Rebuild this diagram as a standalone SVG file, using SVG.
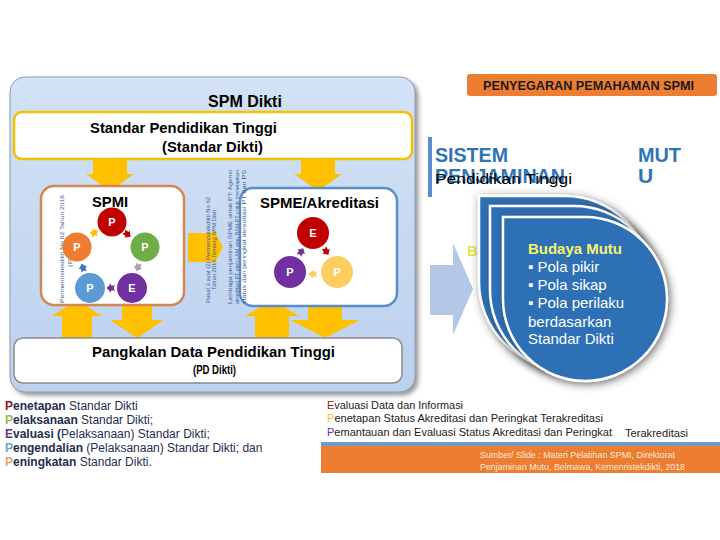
<svg xmlns="http://www.w3.org/2000/svg" width="720" height="540" viewBox="0 0 720 540">
<defs>
<style>
.f{font-family:"Liberation Sans",Arial,sans-serif}
.b{font-weight:bold}
.vt{font-family:"Liberation Sans",Arial,sans-serif;font-size:6px;fill:#3d5f93}
.cl{font-family:"Liberation Sans",Arial,sans-serif;font-size:11px;font-weight:bold;fill:#ffffff}
.yel{fill:#ffc000}
.bl{font-family:"Liberation Sans",Arial,sans-serif;font-size:12px;fill:#1f2d50}
.br{font-family:"Liberation Sans",Arial,sans-serif;font-size:11.5px;fill:#222222}
.mut{font-family:"Liberation Sans",Arial,sans-serif;font-size:15px;fill:#ffffff}
.drop{fill:#2f6fb6;stroke:#ffffff;stroke-width:2.5}
</style>
<linearGradient id="pg" x1="0" y1="0" x2="0" y2="1">
<stop offset="0" stop-color="#d3e2f6"/>
<stop offset="1" stop-color="#bcd1ee"/>
</linearGradient>
<filter id="sh" x="-10%" y="-10%" width="125%" height="125%">
<feGaussianBlur in="SourceAlpha" stdDeviation="2"/>
<feOffset dx="3" dy="3" result="o"/>
<feFlood flood-color="#555555" flood-opacity="0.6"/>
<feComposite in2="o" operator="in"/>
<feMerge><feMergeNode/><feMergeNode in="SourceGraphic"/></feMerge>
</filter>
<filter id="sh2" x="-15%" y="-15%" width="135%" height="135%">
<feGaussianBlur in="SourceAlpha" stdDeviation="4"/>
<feOffset dx="2" dy="2" result="o"/>
<feFlood flood-color="#333333" flood-opacity="0.7"/>
<feComposite in2="o" operator="in"/>
<feMerge><feMergeNode/><feMergeNode in="SourceGraphic"/></feMerge>
</filter>
<path id="sa" d="M-4,-2.5 L0,-2.5 L0,-4.5 L4.5,0 L0,4.5 L0,2.5 L-4,2.5 L-2.5,0 Z"/>
</defs>

<rect width="720" height="540" fill="#ffffff"/>

<!-- header -->
<g id="header">
<rect x="467" y="74" width="250" height="22" rx="3" fill="#ed7d31"/>
<text class="f b" x="483" y="90" font-size="12.5" fill="#1a1a1a" textLength="211" lengthAdjust="spacingAndGlyphs">PENYEGARAN PEMAHAMAN SPMI</text>
</g>

<!-- left panel -->
<g id="panel">
<rect x="10" y="77" width="405" height="315" rx="15" fill="url(#pg)" stroke="#8d9bb0" stroke-width="1" filter="url(#sh)"/>
<text class="f b" x="245" y="107" font-size="16" text-anchor="middle" fill="#000">SPM Dikti</text>
</g>

<g id="connectors">
<!-- down arrows from Standar Dikti -->
<path class="yel" d="M93,156 L127,156 L127,174 L134,174 L110,191 L86,174 L93,174 Z"/>
<path class="yel" d="M301,156 L335,156 L335,174 L342,174 L318,191 L294,174 L301,174 Z"/>
<!-- right arrow SPMI -> SPME -->
<path class="yel" d="M188,233 L213,233 L213,228 L223,247 L213,266 L213,262 L188,262 Z"/>
<!-- arrows to/from PD Dikti -->
<path class="yel" d="M62,340 L62,316 L52,316 L77,300 L102,316 L92,316 L92,340 Z"/>
<path class="yel" d="M122,300 L152,300 L152,320 L164,320 L137,338 L110,320 L122,320 Z"/>
<path class="yel" d="M255,340 L255,316 L245,316 L272,300 L299,316 L289,316 L289,340 Z"/>
<path class="yel" d="M308,300 L342,300 L342,320 L360,320 L325,338 L290,320 L308,320 Z"/>
</g>

<g id="standar">
<rect x="14" y="112" width="398" height="47" rx="8" fill="#ffffff" stroke="#f2c200" stroke-width="2.5"/>
<text class="f b" x="90" y="133" font-size="14" fill="#000" textLength="187" lengthAdjust="spacingAndGlyphs">Standar Pendidikan Tinggi</text>
<text class="f b" x="162" y="152" font-size="14" fill="#000" textLength="101" lengthAdjust="spacingAndGlyphs">(Standar Dikti)</text>
</g>

<g id="spmi">
<rect x="41" y="186" width="143" height="119" rx="13" fill="#ffffff" stroke="#d48752" stroke-width="2.5"/>
<text class="f b" x="92" y="207" font-size="15" fill="#000" textLength="36" lengthAdjust="spacingAndGlyphs">SPMI</text>
<text class="vt" transform="translate(64 249) rotate(-90)" text-anchor="middle" textLength="108" lengthAdjust="spacingAndGlyphs">Permenristekdikti No 62 Tahun 2016</text>
<text class="vt" transform="translate(72 251) rotate(-90)" text-anchor="middle" textLength="32" lengthAdjust="spacingAndGlyphs">(Pasal 1)</text>
<circle cx="112" cy="222" r="14.5" fill="#c00000"/>
<circle cx="145" cy="247" r="14.5" fill="#70ad47"/>
<circle cx="132" cy="288" r="15" fill="#7030a0"/>
<circle cx="90" cy="288" r="15" fill="#5b9bd5"/>
<circle cx="77" cy="247" r="14.5" fill="#ed7d31"/>
<text class="cl" x="112" y="226" text-anchor="middle">P</text>
<text class="cl" x="145" y="251" text-anchor="middle">P</text>
<text class="cl" x="132" y="292" text-anchor="middle">E</text>
<text class="cl" x="90" y="292" text-anchor="middle">P</text>
<text class="cl" x="77" y="251" text-anchor="middle">P</text>
<use href="#sa" fill="#c00000" transform="translate(127 234) rotate(37)"/>
<use href="#sa" fill="#a5a5a5" transform="translate(138 267) rotate(107)"/>
<use href="#sa" fill="#7030a0" transform="translate(111 288) rotate(180)"/>
<use href="#sa" fill="#4472c4" transform="translate(83 268) rotate(254)"/>
<use href="#sa" fill="#ffc000" transform="translate(94 233) rotate(-36)"/>
</g>

<g id="ref1">
<text class="vt" transform="translate(210 250) rotate(-90)" text-anchor="middle" textLength="106" lengthAdjust="spacingAndGlyphs">Pasal 3 ayat (2) Permenristekdikti No 62</text>
<text class="vt" transform="translate(216 250) rotate(-90)" text-anchor="middle" textLength="80" lengthAdjust="spacingAndGlyphs">Tahun 2016 Tentang SPM Dikti</text>
</g>

<g id="spme">
<rect x="240" y="188" width="157" height="118" rx="13" fill="#ffffff" stroke="#5b8ec8" stroke-width="2.5"/>
<text class="f b" x="260" y="208" font-size="14" fill="#000" textLength="119" lengthAdjust="spacingAndGlyphs">SPME/Akreditasi</text>
<circle cx="313" cy="233" r="16" fill="#c00000"/>
<circle cx="290" cy="272" r="16" fill="#7030a0"/>
<circle cx="337" cy="272" r="16" fill="#fdcd60"/>
<text class="cl" x="313" y="237" text-anchor="middle">E</text>
<text class="cl" x="290" y="276" text-anchor="middle">P</text>
<text class="cl" x="337" y="276" text-anchor="middle">P</text>
<use href="#sa" fill="#c00000" transform="translate(326 251) rotate(58)"/>
<use href="#sa" fill="#7030a0" transform="translate(301 252) rotate(-59)"/>
<use href="#sa" fill="#fdcd60" transform="translate(313 274) rotate(180)"/>
</g>

<g id="ref2">
<text class="vt" transform="translate(232 237) rotate(-90)" text-anchor="middle" textLength="134" lengthAdjust="spacingAndGlyphs">Lembaga penjaminan SPME untuk PT: Agensi</text>
<text class="vt" transform="translate(239 237) rotate(-90)" text-anchor="middle" textLength="134" lengthAdjust="spacingAndGlyphs">akreditasi PT oleh LAM atau BAN-PT untuk menetapkan</text>
<text class="vt" transform="translate(246 237) rotate(-90)" text-anchor="middle" textLength="134" lengthAdjust="spacingAndGlyphs">status dan peringkat akreditasi PT dan PS</text>
</g>

<g id="pddikti">
<rect x="14" y="338" width="388" height="45" rx="9" fill="#ffffff" stroke="#8c8c8c" stroke-width="1.5"/>
<text class="f b" x="92" y="357" font-size="14" fill="#000" textLength="243" lengthAdjust="spacingAndGlyphs">Pangkalan Data Pendidikan Tinggi</text>
<text class="f b" x="193" y="374" font-size="12" fill="#000" textLength="43" lengthAdjust="spacingAndGlyphs">(PD Dikti)</text>
</g>

<g id="sistem">
<rect x="428" y="137" width="4" height="60" fill="#5b8ec8"/>
<text class="f b" x="435" y="162" font-size="21" fill="#2e75b6" textLength="73" lengthAdjust="spacingAndGlyphs">SISTEM</text>
<text class="f b" x="435" y="183" font-size="21" fill="#2e75b6" textLength="130" lengthAdjust="spacingAndGlyphs">PENJAMINAN</text>
<text class="f" x="435" y="184" font-size="14" fill="#000" textLength="137" lengthAdjust="spacingAndGlyphs">Pendidikan Tinggi</text>
<text class="f b" x="638" y="162" font-size="21" fill="#2e75b6" textLength="43" lengthAdjust="spacingAndGlyphs">MUT</text>
<text class="f b" x="638" y="183" font-size="21" fill="#2e75b6">U</text>
</g>

<g id="bigarrow">
<path d="M430,265 L453,265 L453,243 L473,289 L453,335 L453,315 L430,315 Z" fill="#b4c7e7"/>
<text class="f b" x="467" y="256" font-size="15" fill="#e6e64a">B</text>
</g>

<g id="budaya">
<path class="drop" filter="url(#sh2)" d="M479,196 L565,196 A86,86 0 0 1 651,282 A86,86 0 0 1 565,368 A86,86 0 0 1 479,282 Z"/>
<path class="drop" filter="url(#sh2)" d="M490,206 L574,206 A84,84 0 0 1 658,290 A84,84 0 0 1 574,374 A84,84 0 0 1 490,290 Z"/>
<path class="drop" filter="url(#sh2)" d="M503,217 L585,217 A82,82 0 0 1 667,299 A82,82 0 0 1 585,381 A82,82 0 0 1 503,299 Z"/>
<text class="f b" x="528" y="254" font-size="15" fill="#f5f56c" textLength="94" lengthAdjust="spacingAndGlyphs">Budaya Mutu</text>
<text class="mut" x="528" y="272">▪ Pola pikir</text>
<text class="mut" x="528" y="290">▪ Pola sikap</text>
<text class="mut" x="528" y="308">▪ Pola perilaku</text>
<text class="mut" x="528" y="327">berdasarkan</text>
<text class="mut" x="528" y="344">Standar Dikti</text>
</g>

<g id="legend-spmi">
<text class="bl" x="5" y="410"><tspan font-weight="bold" fill="#8b1a1a">P</tspan><tspan font-weight="bold">enetapan</tspan> Standar Dikti</text>
<text class="bl" x="5" y="424"><tspan font-weight="bold" fill="#9bbb59">P</tspan><tspan font-weight="bold">elaksanaan</tspan> Standar Dikti;</text>
<text class="bl" x="5" y="438"><tspan font-weight="bold" fill="#5f3d7a">E</tspan><tspan font-weight="bold">valuasi  (</tspan>Pelaksanaan) Standar Dikti;</text>
<text class="bl" x="5" y="452"><tspan font-weight="bold" fill="#6fa8c8">P</tspan><tspan font-weight="bold">engendalian</tspan> (Pelaksanaan) Standar Dikti; dan</text>
<text class="bl" x="5" y="466"><tspan font-weight="bold" fill="#e0a872">P</tspan><tspan font-weight="bold">eningkatan</tspan> Standar Dikti.</text>
</g>

<g id="legend-spme">
<text class="br" x="327" y="409" textLength="136" lengthAdjust="spacingAndGlyphs"><tspan fill="#a0141e">E</tspan>valuasi Data dan Informasi</text>
<text class="br" x="327" y="422" textLength="276" lengthAdjust="spacingAndGlyphs"><tspan fill="#f2c12e">P</tspan>enetapan Status Akreditasi dan Peringkat Terakreditasi</text>
<text class="br" x="327" y="436" textLength="285" lengthAdjust="spacingAndGlyphs"><tspan fill="#6c2fa0">P</tspan>emantauan dan Evaluasi Status Akreditasi dan Peringkat</text>
<text class="br" x="625" y="437" textLength="63" lengthAdjust="spacingAndGlyphs">Terakreditasi</text>
</g>

<g id="source">
<rect x="321" y="442" width="399" height="4" fill="#6e9bc8"/>
<rect x="321" y="446" width="399" height="27" fill="#ed7d31"/>
<text class="f" x="480" y="458" font-size="9" fill="#fde9d9" textLength="195" lengthAdjust="spacingAndGlyphs">Sumber/ Slide : Materi Pelatihan SPMI, Direktorat</text>
<text class="f" x="480" y="470" font-size="9" fill="#fde9d9" textLength="205" lengthAdjust="spacingAndGlyphs">Penjaminan Mutu, Belmawa, Kemenristekdikti, 2018</text>
</g>
</svg>
